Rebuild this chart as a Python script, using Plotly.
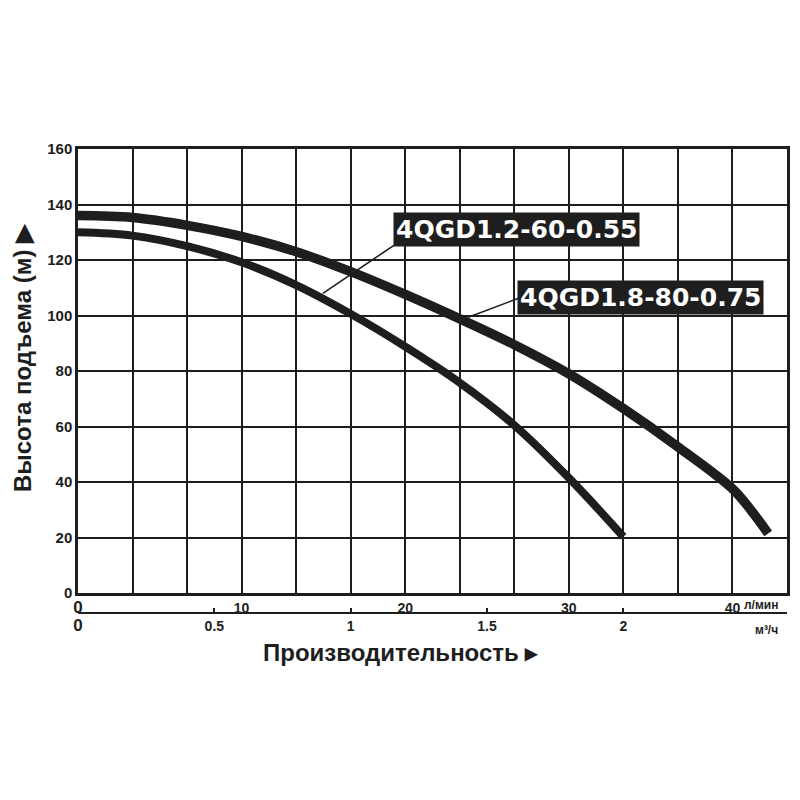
import plotly.graph_objects as go

# flow in m3/h, head in m
q_small = [0, 0.2, 0.4, 0.6, 0.8, 1.0, 1.2, 1.4, 1.6, 1.8, 2.0]
h_small = [130, 128.8, 125, 119.2, 111, 100.6, 88.8, 75.8, 60.5, 41.5, 20.3]

q_big = [0, 0.2, 0.4, 0.6, 0.8, 1.0, 1.2, 1.4, 1.6, 1.8, 2.0, 2.2, 2.4, 2.47, 2.531]
h_big = [136, 135.3, 132.5, 128.5, 123, 115.8, 107.6, 98.8, 89.5, 79, 66.5, 52.7, 37.6, 29.6, 21.5]

name_small = "4QGD1.2-60-0.55"
name_big = "4QGD1.8-80-0.75"

lmin_ticks = [0, 10, 20, 30, 40]
m3h_ticks = [0, 0.5, 1, 1.5, 2]

INK = "#1e1e1e"
FONT = "Liberation Sans, Arial, sans-serif"


def tick_text(vals):
    # the zero labels are drawn a bit larger in the original
    out = []
    for v in vals:
        out.append("<span style='font-size:17px'>0</span>" if v == 0 else str(v))
    return out


fig = go.Figure()
fig.add_trace(go.Scatter(x=q_small, y=h_small, mode="lines",
                         line=dict(color=INK, width=8, shape="spline"), showlegend=False))
fig.add_trace(go.Scatter(x=q_big, y=h_big, mode="lines",
                         line=dict(color=INK, width=9.5, shape="spline"), showlegend=False))

fig.update_layout(
    width=800, height=800,
    margin=dict(l=70, r=21, t=141, b=160, autoexpand=False),
    plot_bgcolor="white", paper_bgcolor="white",
    font=dict(family=FONT, color=INK),
    xaxis=dict(
        range=[0, 2.6], showline=True, mirror=True, linecolor=INK, linewidth=2.5,
        tickvals=[v * 0.06 for v in lmin_ticks], ticktext=tick_text(lmin_ticks),
        ticks="", showgrid=True, gridcolor=INK, gridwidth=2, zeroline=False,
        minor=dict(dtick=0.2, tick0=0, showgrid=True, gridcolor=INK, gridwidth=2),
        tickfont=dict(size=14, weight="bold"), automargin=False,
    ),
    xaxis2=dict(
        range=[0, 2.6], overlaying="x", anchor="free", position=0.070, side="bottom",
        showline=True, linecolor=INK, linewidth=2, showgrid=False, zeroline=False,
        tickvals=m3h_ticks, ticktext=tick_text(m3h_ticks),
        ticks="inside", ticklen=4, tickcolor=INK, tickwidth=2,
        tickfont=dict(size=14, weight="bold"), automargin=False,
    ),
    yaxis=dict(
        range=[0, 160], dtick=20, domain=[0.110, 1], showline=True, mirror=True,
        linecolor=INK, linewidth=2.5, showgrid=True, gridcolor=INK, gridwidth=2,
        zeroline=False, ticks="", tickfont=dict(size=15, weight="bold"), automargin=False,
    ),
)

# dummy trace to display the second x axis
fig.add_trace(go.Scatter(x=[0, 2.6], y=[None, None], xaxis="x2", showlegend=False, hoverinfo="skip"))

# pointer lines from curves to labels
fig.add_shape(type="line", x0=0.898, y0=108, x1=1.16, y1=125.4, line=dict(color=INK, width=1.6))
fig.add_shape(type="line", x0=1.431, y0=99.4, x1=1.615, y1=106.2, line=dict(color=INK, width=1.6))

for txt, lx, cy in [(name_small, 1.155, 131), (name_big, 1.61, 106.5)]:
    fig.add_annotation(x=lx, y=cy, xref="x", yref="y", xanchor="left", yanchor="middle",
                       text="<b>%s</b>" % txt, showarrow=False,
                       font=dict(size=25, color="white", family="DejaVu Sans"),
                       bgcolor=INK, borderpad=2)

fig.add_annotation(x=-0.079, y=0.583, xref="paper", yref="paper", textangle=-90,
                   xanchor="center", yanchor="middle",
                   text="<b>Высота подъема (м) ▶</b>", showarrow=False,
                   font=dict(size=24, color=INK, family=FONT))
fig.add_annotation(x=0.455, y=-0.01, xref="paper", yref="paper", xanchor="center", yanchor="middle",
                   text="<b>Производительность ▸</b>", showarrow=False,
                   font=dict(size=24, color=INK, family=FONT))
fig.add_annotation(x=0.99, y=0.086, xref="paper", yref="paper", xanchor="right", yanchor="middle",
                   text="<b>л/мин</b>", showarrow=False, font=dict(size=12, color=INK, family=FONT))
fig.add_annotation(x=0.99, y=0.036, xref="paper", yref="paper", xanchor="right", yanchor="middle",
                   text="<b>м³/ч</b>", showarrow=False, font=dict(size=12, color=INK, family=FONT))

fig.write_html("out.html")
